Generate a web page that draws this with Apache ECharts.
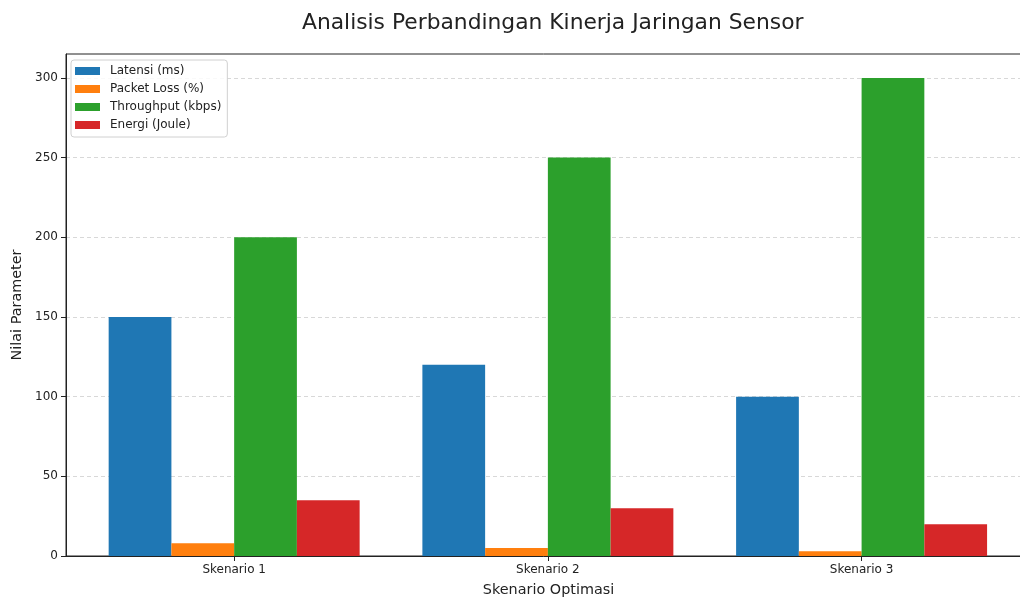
<!DOCTYPE html>
<html><head><meta charset="utf-8">
<script src="https://cdn.jsdelivr.net/npm/echarts@6/dist/echarts.min.js"></script>
<style>html,body{margin:0;padding:0;background:#fff}#c{width:1020px;height:597px}</style>
</head><body><div id="c"></div>
<script>
const categories = ['Skenario 1', 'Skenario 2', 'Skenario 3'];
const latensi = [150, 120, 100];
const packetLoss = [8, 5, 3];
const throughput = [200, 250, 300];
const energi = [35, 30, 20];
const seriesNames = ['Latensi (ms)', 'Packet Loss (%)', 'Throughput (kbps)', 'Energi (Joule)'];
const yTicks = [0, 50, 100, 150, 200, 250, 300];

const colors = ['#1f77b4', '#ff7f0e', '#2ca02c', '#d62728'];
const font = 'DejaVu Sans';
const chart = echarts.init(document.getElementById('c'));
const toPts = arr => arr.map((v, i) => [i, v]);
const allData = [latensi, packetLoss, throughput, energi];

chart.setOption({
  animation: false,
  textStyle: { fontFamily: font },
  title: {
    text: 'Analisis Perbandingan Kinerja Jaringan Sensor',
    left: 297, top: 7,
    textStyle: { fontFamily: font, fontSize: 21.8, fontWeight: 'normal', color: '#222' }
  },
  legend: {
    orient: 'vertical', left: 71, top: 60,
    itemWidth: 25, itemHeight: 8, itemGap: 6,
    padding: [5, 6, 6, 4],
    borderColor: '#d0d0d0', borderWidth: 1, borderRadius: 3,
    backgroundColor: 'rgba(255,255,255,0.85)',
    textStyle: { fontFamily: font, fontSize: 12, color: '#222', padding: [0, 0, 0, 5] },
    icon: 'rect',
    data: seriesNames
  },
  grid: {
    left: 66, top: 54, right: -11, bottom: 41,
    outerBoundsMode: 'none', containLabel: false,
    show: true, borderColor: '#222', borderWidth: 1, backgroundColor: 'transparent'
  },
  xAxis: {
    type: 'value', min: -0.536, max: 2.54,
    name: 'Skenario Optimasi', nameLocation: 'middle', nameGap: 27,
    nameTextStyle: { fontFamily: font, fontSize: 14.4, color: '#222' },
    axisLine: { show: true, onZero: false, lineStyle: { color: '#222' } },
    axisTick: { show: true, length: 5, lineStyle: { color: '#222' }, customValues: [0, 1, 2] },
    axisLabel: { customValues: [0, 1, 2], formatter: v => categories[Math.round(v)] || '',
      fontFamily: font, fontSize: 12, color: '#222', margin: 8 },
    splitLine: { show: false }
  },
  yAxis: {
    type: 'value', min: 0, max: 315,
    name: 'Nilai Parameter', nameLocation: 'middle', nameGap: 40,
    nameTextStyle: { fontFamily: font, fontSize: 14.4, color: '#222' },
    axisLine: { show: true, onZero: false, lineStyle: { color: '#222' } },
    axisTick: { show: true, length: 5, lineStyle: { color: '#222' }, customValues: yTicks },
    axisLabel: { customValues: yTicks, fontFamily: font, fontSize: 12, color: '#222', margin: 8 },
    splitLine: { show: true, lineStyle: { color: '#d8d8d8', type: [4, 3], width: 1 } },
    interval: 50
  },
  series: seriesNames.map((name, k) => ({
    name, type: 'bar', data: toPts(allData[k]),
    barGap: '0%', barCategoryGap: '20%',
    itemStyle: { color: colors[k] }, z: 3
  }))
});
</script>
</body></html>
